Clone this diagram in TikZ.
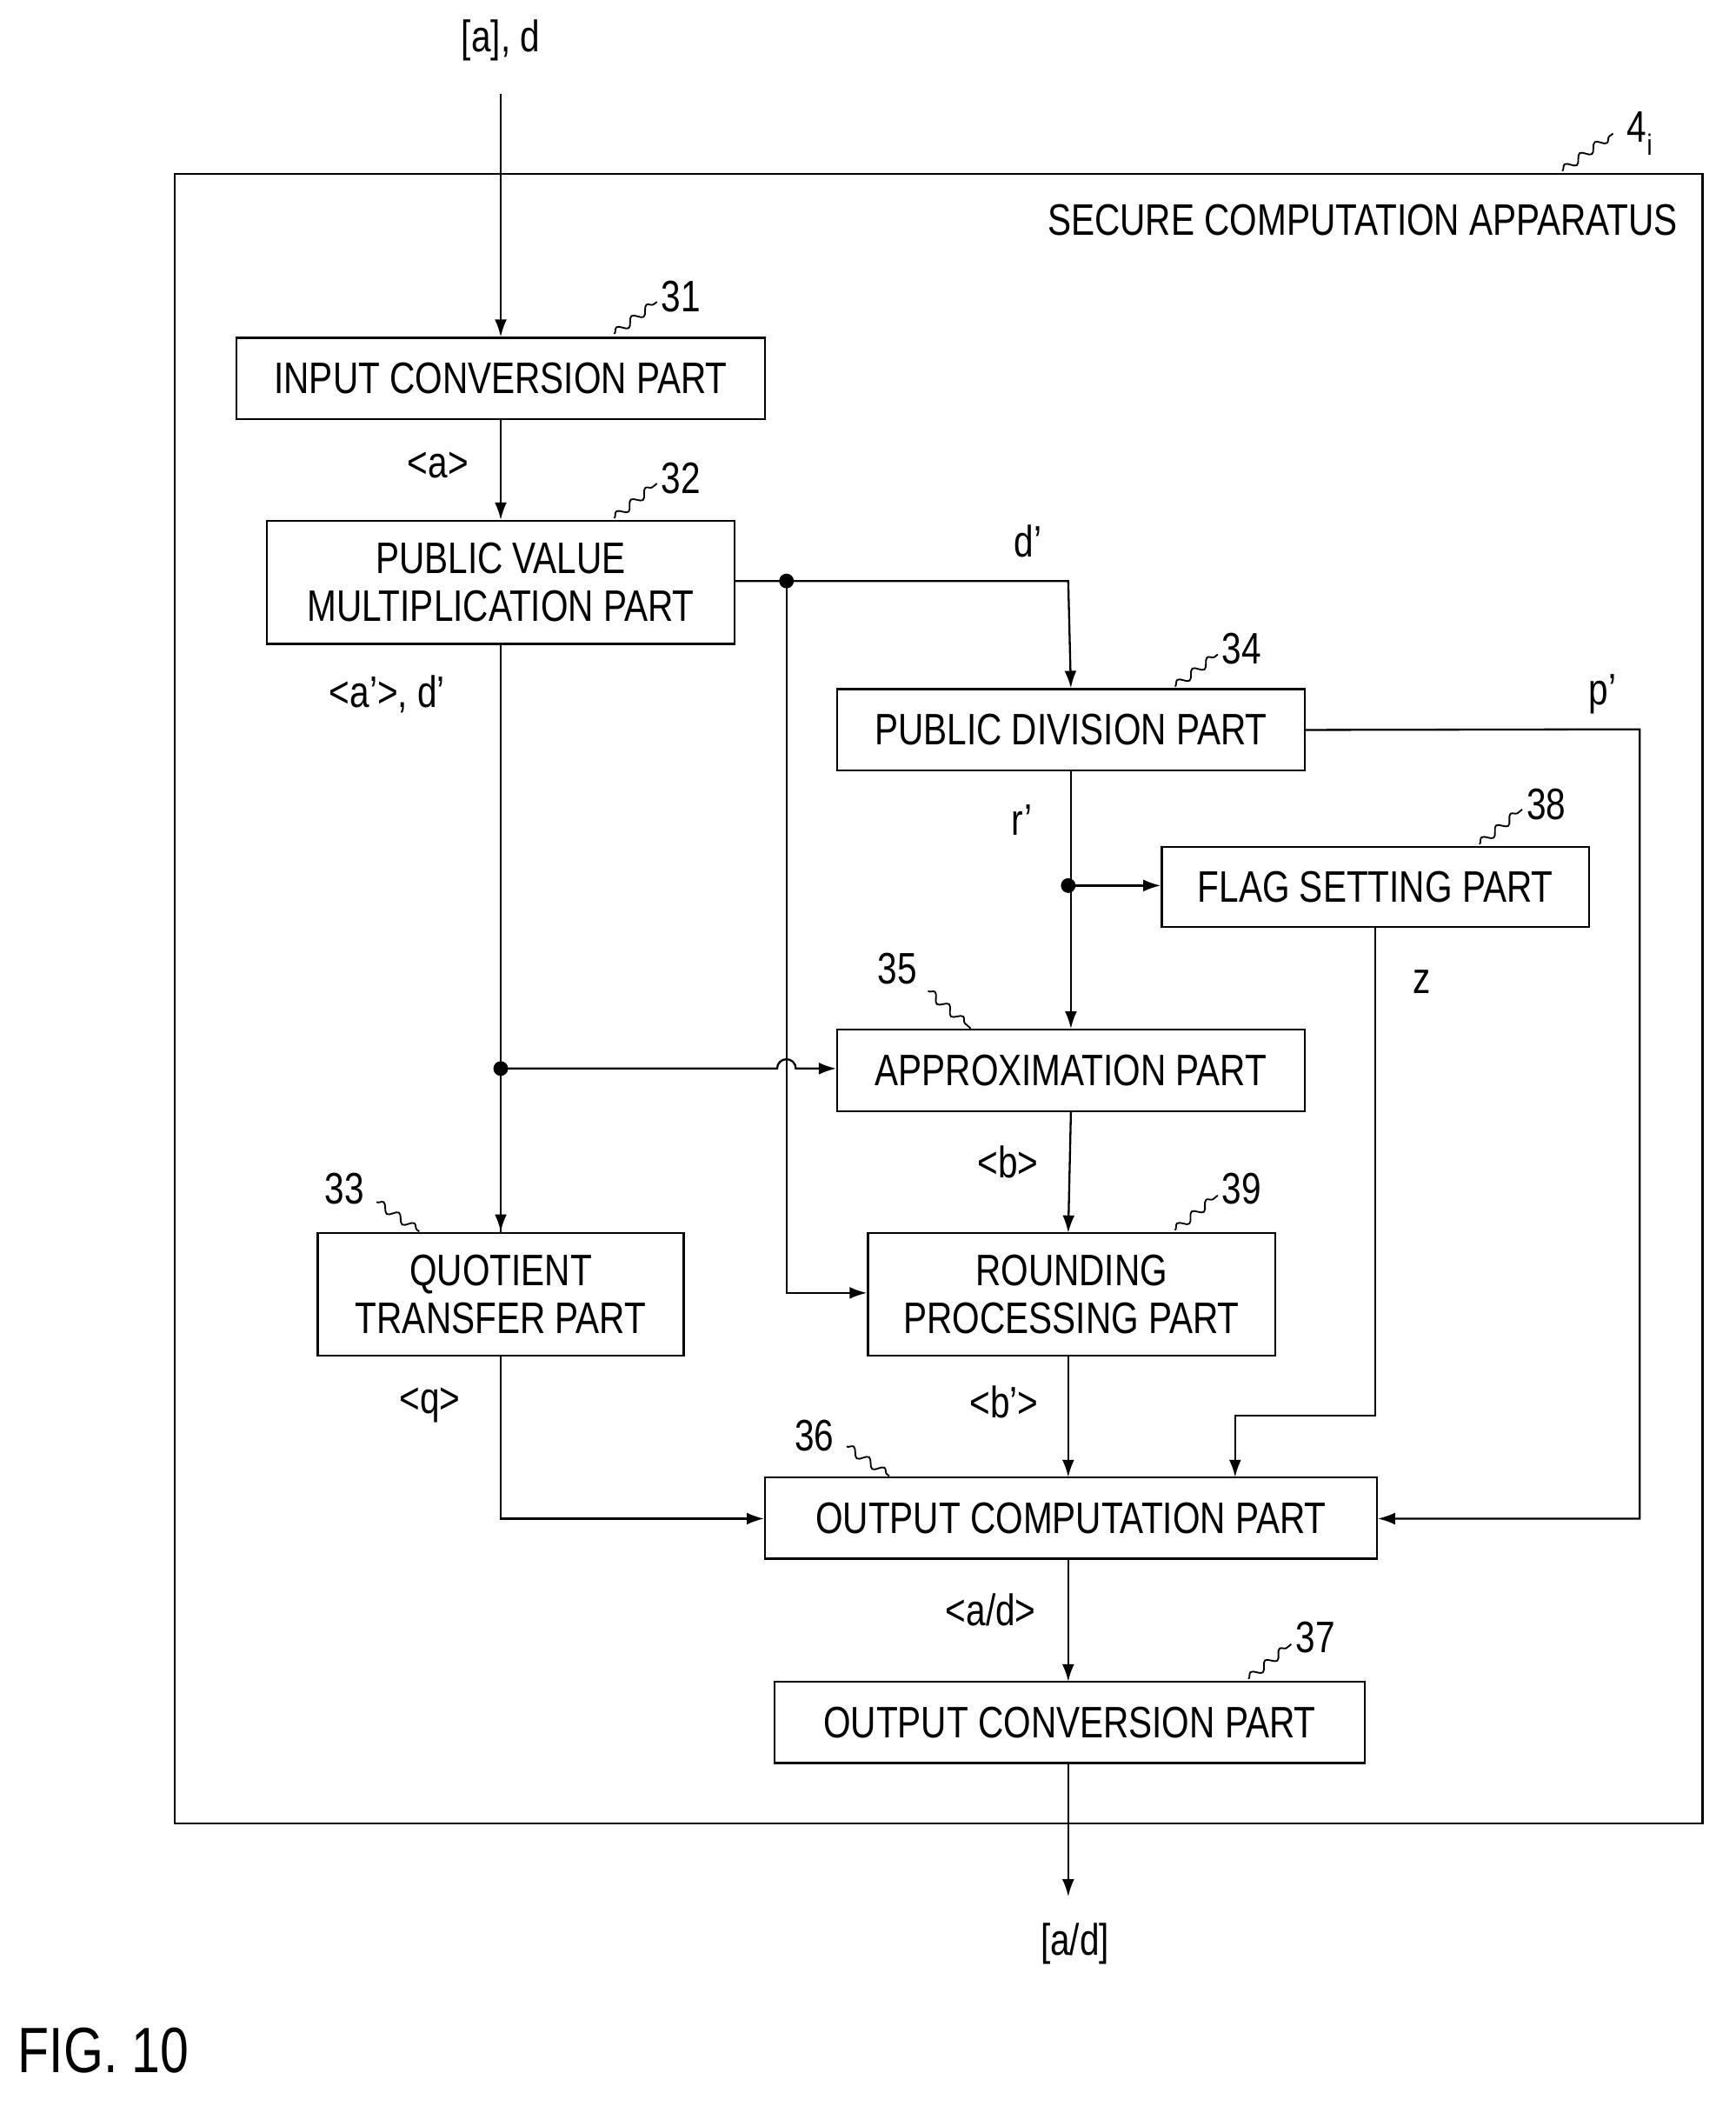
\documentclass[tikz,border=0pt]{standalone}
\usepackage{fontspec}
\setmainfont{Liberation Sans}[FakeStretch=0.8]
\usetikzlibrary{arrows.meta,decorations.pathmorphing}
\begin{document}
\begin{tikzpicture}[x=1pt,y=-1pt,
  box/.style={draw,line width=1.5pt,inner sep=0pt},
  ln/.style={line width=1.5pt},
  ar/.style={line width=1.5pt,-{Latex[length=13pt,width=9pt]}},
  lab/.style={font=\fontsize{33}{36}\selectfont},
  sq/.style={line width=1.2pt,decorate,decoration={snake,amplitude=3pt,segment length=14pt}},
  dot/.style={circle,fill,inner sep=0pt,minimum size=11pt}]
\useasboundingbox (0,0) rectangle (1300,1582);
\draw[ln] (131,130) rectangle (1275,1365);
\node[lab,anchor=east] (title) at (1260,165) {SECURE COMPUTATION APPARATUS};
\node[lab] (ref4) at (1228,100) {4\raisebox{-0.3em}{\fontsize{22}{24}\selectfont i}};
\draw[sq] (1170,128) -- (1208,100);
% boxes
\node[box,minimum width=396pt,minimum height=61pt,lab] (in) at (375,283.5) {INPUT CONVERSION PART};
\node[box,minimum width=350pt,minimum height=92pt,lab,align=center] (pvm) at (375,436) {PUBLIC VALUE\\MULTIPLICATION PART};
\node[box,minimum width=350pt,minimum height=61pt,lab] (pd) at (802,546.5) {PUBLIC DIVISION PART};
\node[box,minimum width=320pt,minimum height=60pt,lab] (fs) at (1030,664) {FLAG SETTING PART};
\node[box,minimum width=350pt,minimum height=61pt,lab] (ap) at (802,801.5) {APPROXIMATION PART};
\node[box,minimum width=305pt,minimum height=92pt,lab,align=center] (rp) at (802.5,969) {ROUNDING\\PROCESSING PART};
\node[box,minimum width=274pt,minimum height=92pt,lab,align=center] (qt) at (375,969) {QUOTIENT\\TRANSFER PART};
\node[box,minimum width=458pt,minimum height=61pt,lab] (oc) at (802,1136.5) {OUTPUT COMPUTATION PART};
\node[box,minimum width=442pt,minimum height=61pt,lab] (ov) at (801,1289.5) {OUTPUT CONVERSION PART};
% reference numbers
\node[lab] (n31) at (510,222) {31}; \draw[sq] (460,250) -- (492,226);
\node[lab] (n32) at (510,358) {32}; \draw[sq] (460,388) -- (492,362);
\node[lab] (n34) at (930,486) {34}; \draw[sq] (880,514) -- (912,490);
\node[lab] (n38) at (1158,602) {38}; \draw[sq] (1108,632) -- (1140,606);
\node[lab] (n35) at (672,725) {35}; \draw[sq] (695,742) -- (727,770);
\node[lab] (n39) at (930,890) {39}; \draw[sq] (880,921) -- (912,895);
\node[lab] (n33) at (258,890) {33}; \draw[sq] (282,900) -- (314,922);
\node[lab] (n36) at (610,1075) {36}; \draw[sq] (634,1083) -- (666,1105);
\node[lab] (n37) at (985,1226) {37}; \draw[sq] (935,1257) -- (967,1231);
% labels
\node[lab] (tin) at (375,30) {[a], d};
\coordinate (top) at (375,70);
\node[lab] (la) at (328,348) {<a>};
\node[lab] (ld) at (770,405) {d’};
\node[lab] (lad) at (290,520) {<a’>, d’};
\node[lab] (lp) at (1200,520) {p’};
\node[lab] (lr) at (765,614) {r’};
\node[lab] (lz) at (1065,735) {z};
\node[lab] (lb) at (755,870) {<b>};
\node[lab] (lbp) at (752,1050) {<b’>};
\node[lab] (lq) at (322,1052) {<q>};
\node[lab] (lo) at (742,1205) {<a/d>};
\node[lab] (tout) at (805,1455) {[a/d]};
\coordinate (bot) at (800,1420);
\node[font=\fontsize{48}{52}\selectfont,anchor=west] (fig) at (10,1535) {FIG. 10};
% connectors
\draw[ar] (top) -- (in.north);
\draw[ar] (in.south) -- (pvm.north);
\node[dot] (d1) at (589,435) {};
\draw[ar] (pvm.east |- d1) -- (800,435) -- (pd.north);
\draw[ar] (d1.center) -- (589,968) -- (rp.west |- 0,968);
\node[dot] (d2) at (375,800) {};
\draw[ln] (pvm.south) -- (qt.north);
\draw[ar] (qt.north) ++(0,-1) -- (qt.north);
\draw[ar] (d2.center) -- (582,800) arc (180:360:7) -- (ap.west |- 0,800);
\node[dot] (d3) at (800,663) {};
\draw[ar] (pd.south) -- (ap.north);
\draw[ar] (d3.center) -- (fs.west |- d3);
\draw[ar] (pd.east) -- (1228,546) -- (1228,1137) -- (oc.east |- 0,1137);
\draw[ar] (fs.south) -- (1030,1060) -- (925,1060) -- (925,1106);
\draw[ar] (ap.south) -- (800,923);
\draw[ar] (800,1015) -- (800,1106);
\draw[ar] (qt.south) -- (375,1137) -- (oc.west |- 0,1137);
\draw[ar] (800,1167) -- (800,1259);
\draw[ar] (800,1320) -- (bot);
\end{tikzpicture}
\end{document}
